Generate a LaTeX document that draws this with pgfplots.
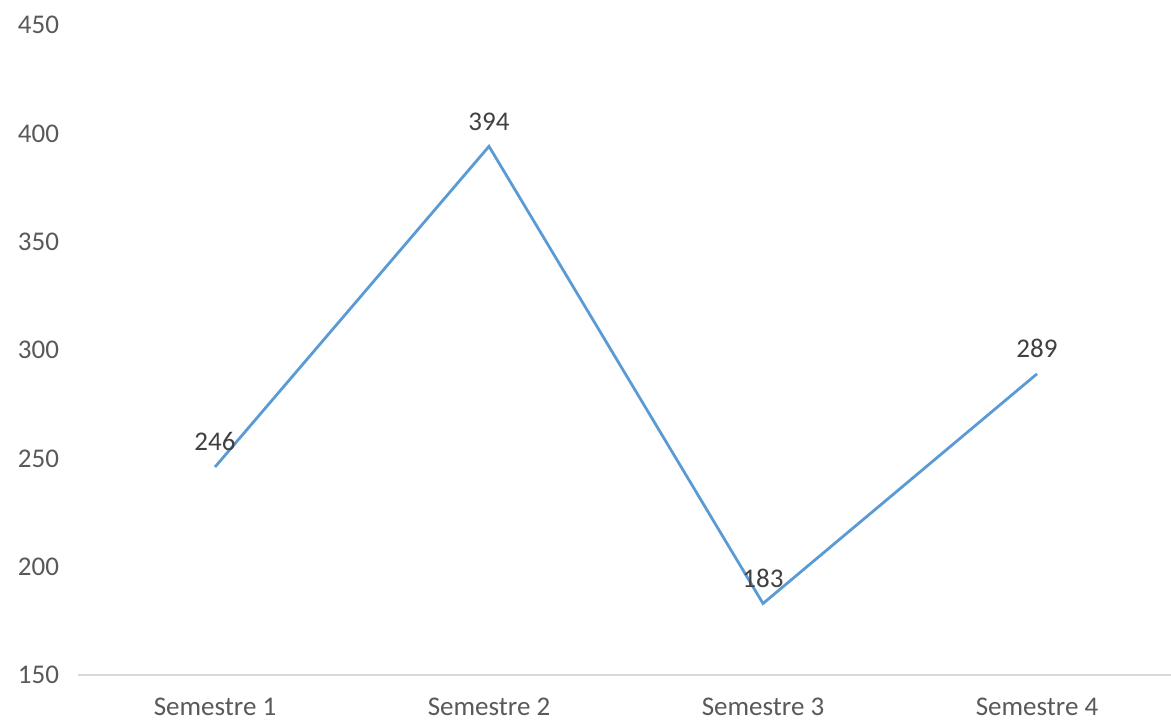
\documentclass[border=0pt]{standalone}
\usepackage{pgfplots}
\pgfplotsset{compat=1.18}
\usepackage{fontspec}
\setmainfont{Carlito}
\definecolor{seriesblue}{HTML}{5B9BD5}
\definecolor{ticktext}{HTML}{595959}
\definecolor{labeltext}{HTML}{404040}
\definecolor{baseline}{HTML}{D9D9D9}
\begin{document}
\begin{tikzpicture}
\useasboundingbox (-39pt,-25pt) rectangle (546.5pt,337.5pt);
\begin{axis}[
  at={(0,0)}, anchor=south west,
  scale only axis,
  width=546.5pt, height=325pt,
  xmin=-0.5, xmax=3.489,
  ymin=150, ymax=450,
  ytick={150,200,...,450},
  xtick={0,1,2,3},
  xticklabels={Semestre 1,Semestre 2,Semestre 3,Semestre 4},
  axis lines*=left,
  x axis line style={draw=baseline, line width=0.9pt, -},
  y axis line style={draw=none},
  major tick length=0pt,
  tick style={draw=none},
  /pgf/number format/assume math mode=true,
  every tick label/.append style={font=\fontsize{13.5pt}{16pt}\selectfont, text=ticktext},
  yticklabel style={xshift=-6pt},
  xticklabel style={yshift=-8pt},
  clip=false,
  nodes near coords,
  every node near coord/.append style={font=\fontsize{13.5pt}{16pt}\selectfont, text=labeltext, anchor=south, yshift=4pt},
]
\addplot[seriesblue, line width=1.4pt, mark=none] coordinates {
  (0,246) (1,394) (2,183) (3,289)
};
\end{axis}
\end{tikzpicture}
\end{document}
